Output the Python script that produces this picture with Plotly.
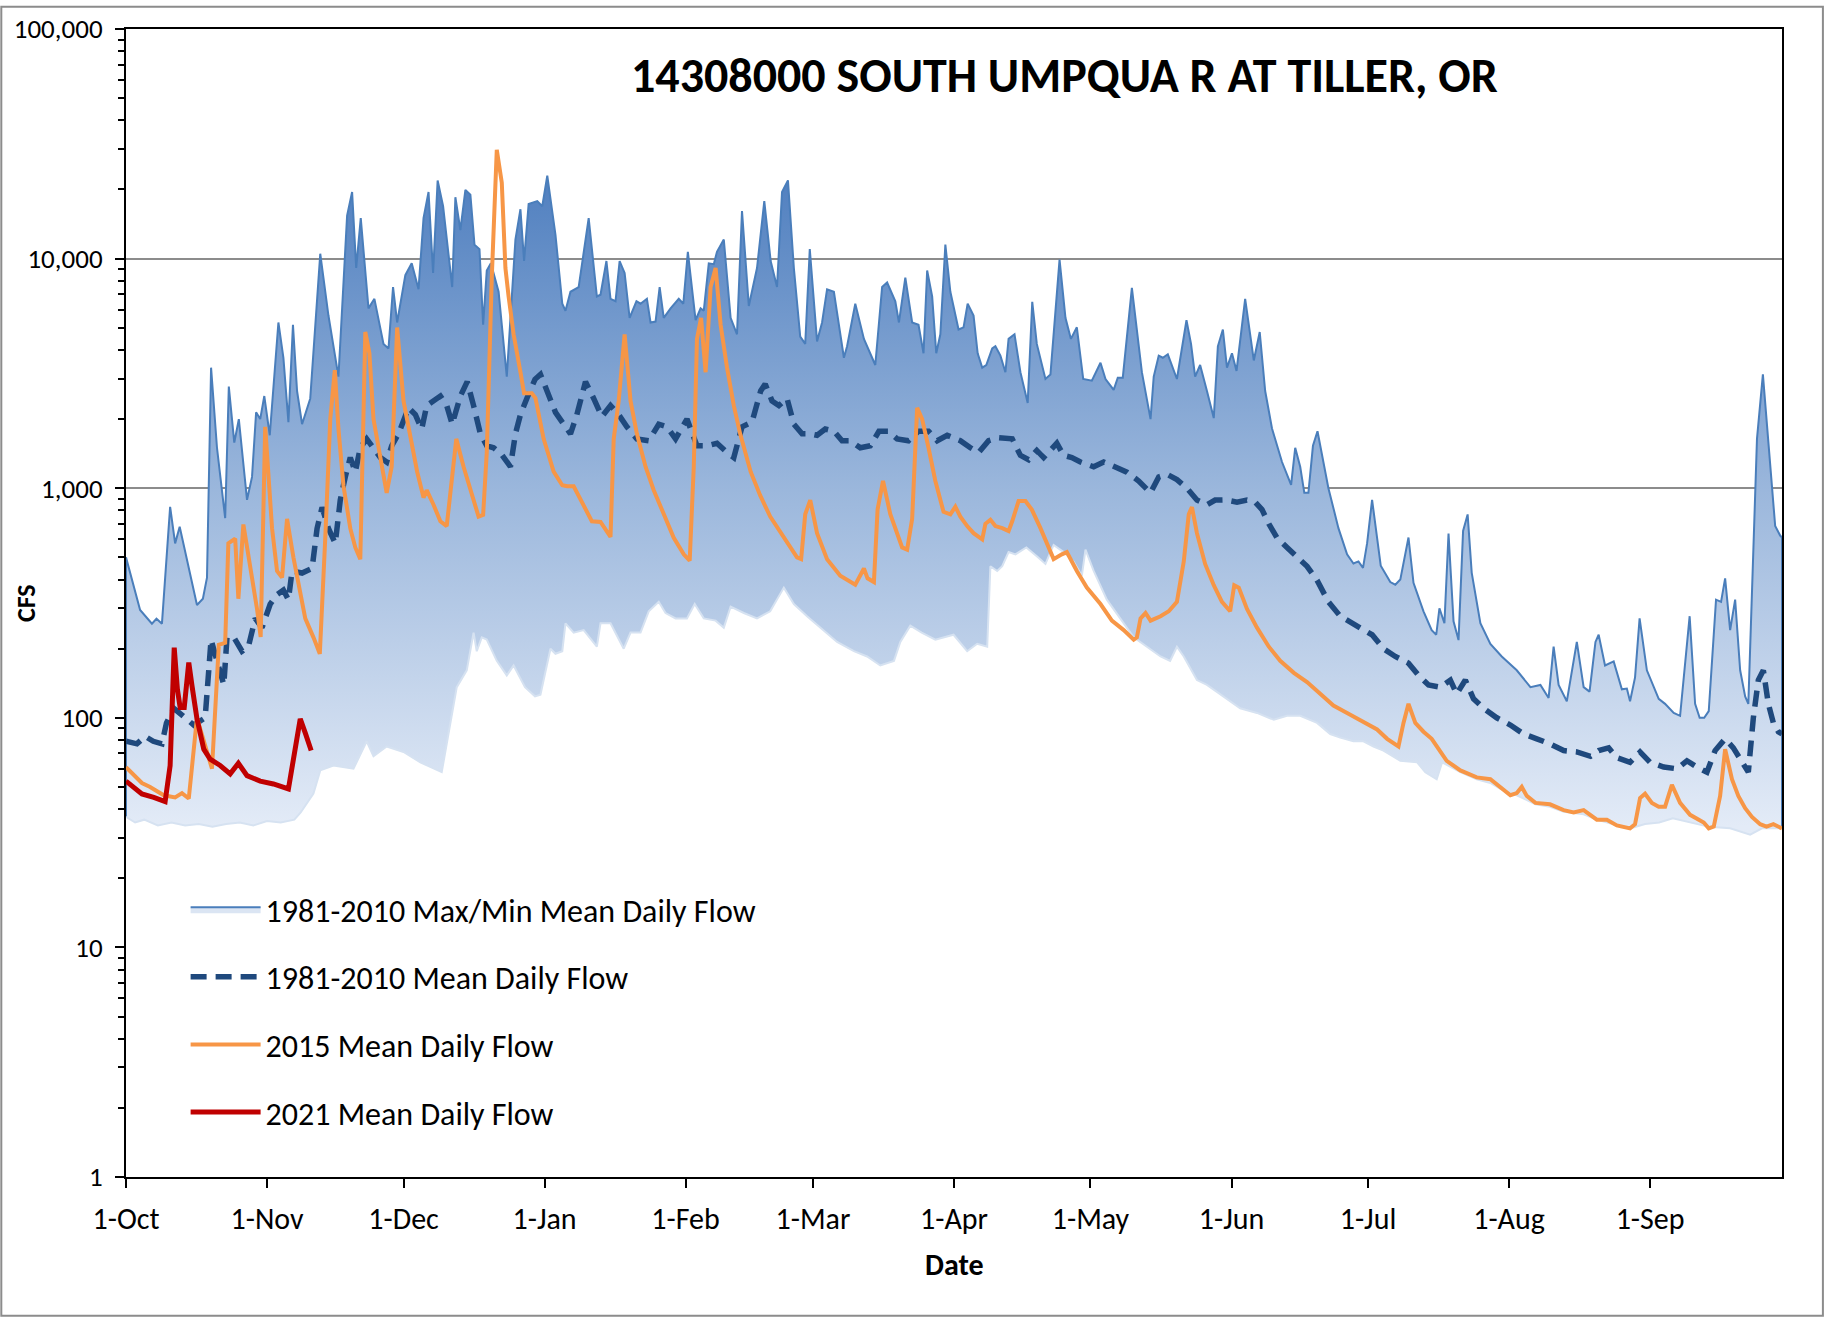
import plotly.graph_objects as go

# ---------------- data (day index: 0 = 1-Oct ... 364 = 30-Sep) ----------------
MONTH_START_DAYS = [0, 31, 61, 92, 123, 151, 182, 212, 243, 273, 304, 335]
MONTH_LABELS = ["1-Oct", "1-Nov", "1-Dec", "1-Jan", "1-Feb", "1-Mar",
                "1-Apr", "1-May", "1-Jun", "1-Jul", "1-Aug", "1-Sep"]
Y_TICKS = [1, 10, 100, 1000, 10000, 100000]
Y_TICK_TEXT = ["1", "10", "100", "1,000", "10,000", "100,000"]

max_day = [0, 3.1, 5.7, 6.7, 7.9, 9.7, 10.8, 11.8, 15.6, 16.9, 17.8, 18.7, 20.0, 21.8, 22.6, 23.8, 24.8,
           26.6, 27.7, 28.6, 29.5, 30.4, 31.6, 33.5, 34.6, 35.7, 36.7, 37.6, 38.7, 40.5, 42.7, 44.5,
           46.7, 48.6, 49.7, 50.6, 51.6, 53.3, 54.6, 56.6, 57.7, 58.7, 59.6, 61.4, 62.8, 64.3, 65.4,
           66.5, 67.5, 68.5, 69.7, 71.7, 72.4, 73.5, 74.6, 75.7, 76.6, 77.7, 78.5, 79.3, 80.2, 81.9,
           83.7, 85.6, 86.7, 87.5, 88.5, 90.4, 91.5, 92.6, 94.4, 95.9, 96.6, 97.7, 99.5, 101.7, 103.5,
           104.3, 105.6, 106.5, 107.6, 108.5, 109.6, 110.7, 112.2, 113.1, 114.5, 115.3, 116.4, 117.3,
           118.2, 119.7, 121.5, 122.5, 123.5, 125.2, 126.3, 127.0, 128.1, 129.2, 129.9, 131.4, 132.9,
           134.3, 135.4, 136.9, 138.7, 140.3, 141.7, 143.1, 144.2, 145.5, 146.8, 148.2, 149.3, 150.3,
           151.9, 153.0, 154.1, 155.6, 157.8, 158.5, 160.3, 162.2, 164.7, 166.2, 167.3, 169.1, 169.9,
           171.3, 172.8, 174.2, 175.3, 176.1, 177.2, 178.1, 179.0, 180.1, 181.2, 183.0, 184.1, 185.0,
           186.3, 187.2, 188.2, 189.1, 190.4, 191.1, 192.2, 193.3, 194.0, 195.3, 196.6, 198.2, 199.2,
           200.2, 202.1, 203.2, 205.2, 206.5, 207.7, 209.0, 210.4, 212.3, 214.2, 215.3, 217.1, 218.0,
           219.1, 221.1, 223.3, 225.2, 225.9, 227.0, 227.9, 229.0, 231.0, 233.1, 234.1, 235.0, 236.1,
           237.6, 239.1, 240.0, 241.1, 242.0, 243.1, 244.1, 246.0, 247.9, 249.2, 250.4, 251.9, 254.1,
           256.1, 257.0, 258.1, 259.0, 259.9, 260.9, 261.9, 264.3, 266.5, 268.4, 269.8, 270.9, 271.9,
           272.8, 273.9, 275.8, 277.9, 279.0, 280.1, 281.9, 283.0, 285.2, 287.0, 288.0, 288.7, 289.8,
           290.7, 291.8, 292.9, 293.9, 294.9, 295.8, 297.7, 299.9, 302.4, 305.7, 308.7, 310.9, 312.7,
           313.8, 314.9, 316.7, 318.9, 320.4, 321.7, 323.0, 323.7, 325.1, 327.0, 328.8, 329.9, 330.6,
           331.7, 332.7, 334.3, 336.9, 338.3, 340.2, 341.6, 343.7, 344.9, 345.9, 346.9, 347.9, 349.5,
           350.6, 351.5, 352.6, 353.7, 354.8, 355.9, 356.6, 358.5, 359.8, 361.0, 362.5, 363.6, 364]
max_cfs = [500, 295, 257, 270, 257, 830, 575, 680, 310, 330, 408, 3350, 1500, 740, 2770, 1580, 2000,
           890, 1120, 2140, 2000, 2520, 1700, 5270, 3700, 1940, 5150, 2650, 1900, 2460, 10500, 5650,
           3060, 15400, 19500, 9100, 15000, 6070, 6680, 4250, 4060, 7520, 5270, 8470, 9540, 7350, 15000,
           19500, 8660, 21900, 16900, 7520, 18500, 13300, 19900, 19000, 11500, 11000, 5150, 8880, 9540, 7170,
           3060, 12100, 16400, 9760, 17300, 17800, 16900, 23000, 12700, 6360, 5930, 7170, 7520, 15000, 6840,
           6960, 9760, 6680, 6520, 9760, 8660, 5520, 6520, 6360, 6680, 5270, 5320, 7520,
           5520, 6070, 6680, 6360, 10700, 5390, 6070, 5930, 9540, 9460, 10700, 12100, 5520,
           4680, 16100, 6220, 9100, 17800, 9760, 7520, 19500, 21900, 9100, 4570, 4250, 11000,
           4360, 5270, 7350, 7170, 3700, 4150, 6360, 4470, 3440, 7520, 7870, 6520, 5270,
           8270, 5270, 5150, 3870, 8880, 6840, 3870, 4680, 11500, 7170, 4910, 5020, 6360,
           5650, 3870, 3350, 3440, 4060, 4150, 3780, 3200, 4470, 4680, 3200, 2350, 6480,
           4250, 2990, 3130, 9900, 5520, 4470, 5020, 2990, 2940, 3520, 2990, 2680, 3030,
           3030, 7450, 3200, 2000, 3060, 3780, 3700, 3830, 2990, 5390, 4250, 3060, 3440,
           2650, 2020, 4150, 4910, 3350, 3870, 3240, 6680, 3600, 4790, 2650, 1820, 1300,
           1035, 1500, 1240, 955, 955, 1530, 1770, 1000, 670, 515, 470, 480, 450,
           575, 890, 460, 390, 380, 400, 610, 387, 291, 241, 230, 300, 258,
           635, 263, 218, 651, 769, 428, 258, 210, 185, 161, 136, 139, 122,
           204, 139, 118, 214, 136, 130, 214, 230, 169, 176, 133, 134, 118,
           150, 271, 161, 121, 115, 105, 102, 277, 115, 100, 100, 107, 327,
           320, 405, 241, 327, 161, 124, 115, 1640, 3130, 1570, 684, 622, 610]

min_day = [0, 2, 4, 7, 10, 13, 16, 19, 22, 25, 28, 31, 34, 37, 38.4, 41.2, 42.7, 45.6, 50.0, 52.9, 54.4,
           57.3, 61.0, 64.7, 69.4, 71.3, 72.7, 74.9, 76.4, 77.1, 78.2, 79.3, 81.5, 83.7, 85.2, 87.7,
           89.9, 91.1, 92.6, 93.3, 94.4, 95.9, 96.6, 98.4, 100.6, 103.5, 104.3, 106.5, 109.4, 110.9,
           113.1, 114.9, 117.1, 118.6, 120.8, 123.3, 125.0, 127.0, 129.6, 131.4, 132.9, 135.8, 138.7,
           141.6, 144.6, 146.8, 149.7, 152.6, 156.3, 160.0, 162.9, 165.8, 168.8, 170.2, 172.4, 174.9,
           177.9, 181.9, 184.9, 187.1, 189.3, 190.0, 191.5, 192.6, 194.0, 195.5, 197.9, 200.2, 202.1,
           203.9, 206.1, 208.3, 210.1, 210.9, 212.7, 215.6, 218.6, 221.5, 224.4, 227.4, 229.5, 231.0,
           232.5, 235.4, 237.6, 241.3, 244.9, 248.6, 252.3, 255.2, 258.1, 261.8, 264.7, 266.9, 269.8,
           272.0, 274.2, 276.4, 280.1, 283.8, 285.6, 288.1, 289.3, 293.3, 296.9, 299.9, 302.1, 305.7,
           309.8, 313.0, 316.0, 320.4, 323.3, 327.7, 330.6, 333.9, 337.0, 340.0, 343.8, 348.0, 352.6,
           357.0, 359.6, 362.1, 364]
min_cfs = [37, 35, 36, 34, 35, 34, 34.5, 33.5, 34.5, 35, 34, 35.5, 35, 36, 38.7, 46.8, 59, 62, 60, 79, 68,
           75, 71, 64, 58, 95, 136, 161, 235, 195, 224, 219, 177, 153, 169, 136,
           124, 126, 169, 200, 190, 195, 258, 235, 241, 204, 258, 258, 200, 235,
           235, 291, 320, 286, 271, 271, 313, 271, 265, 247, 305, 286, 271,
           291, 369, 313, 277, 247, 214, 195, 185, 169, 177, 214, 252, 235,
           219, 230, 195, 210, 204, 457, 436, 457, 527, 515, 552, 505, 468,
           566, 527, 479, 416, 540, 436, 327, 271, 224, 204, 185, 177, 204,
           185, 146, 139, 124, 110, 105, 98, 102, 102, 95, 85, 82, 79,
           79, 75, 72, 65, 64, 58, 54, 64, 58, 54, 52, 49, 46,
           42, 41, 39, 38, 36, 34, 33, 34.5, 35, 36.5, 35, 33.5, 33,
           31, 33, 33, 33]

mean_day = [0, 2.4, 4.2, 6.0, 7.9, 8.9, 10.5, 12.7, 14.9, 17.4, 18.2, 18.7, 20.0, 21.5, 22.2, 23.7, 25.5,
            26.9, 28.4, 29.9, 31.7, 33.2, 34.6, 35.7, 36.5, 38.7, 40.9, 42.0, 43.1, 44.5, 46.0, 47.1,
            48.2, 49.3, 50.4, 51.5, 52.9, 54.4, 55.9, 57.3, 58.4, 59.9, 61.0, 62.1, 63.6, 65.0, 66.1,
            67.6, 69.1, 70.5, 71.7, 73.5, 75.0, 76.4, 77.9, 79.3, 80.8, 82.6, 84.5, 85.6, 86.7, 88.1,
            89.9, 91.1, 92.9, 94.4, 96.2, 97.7, 99.1, 101.0, 102.8, 104.6, 106.5, 108.3, 110.1, 112.3,
            114.9, 117.1, 118.9, 120.8, 123.3, 125.5, 127.7, 129.9, 132.1, 133.6, 135.4, 137.6, 139.5,
            140.5, 142.0, 143.5, 145.3, 146.8, 148.6, 150.4, 151.9, 153.7, 155.6, 157.4, 159.2, 161.4,
            163.6, 165.5, 167.6, 169.5, 172.0, 174.2, 176.4, 178.3, 180.5, 183.4, 185.6, 187.4, 189.6,
            191.8, 194.8, 196.6, 198.4, 200.2, 201.7, 203.2, 204.6, 206.1, 207.9, 209.8, 212.7, 214.9,
            217.1, 220.0, 222.6, 225.2, 227.0, 228.8, 231.0, 233.2, 235.4, 237.6, 239.4, 241.6, 244.2,
            246.4, 248.2, 249.7, 251.2, 253.0, 255.2, 257.4, 259.6, 261.8, 264.3, 266.9, 269.1, 271.3,
            273.9, 276.4, 279.0, 281.9, 284.1, 286.3, 288.9, 291.1, 292.5, 294.4, 296.2, 298.4, 301.3,
            304.3, 307.2, 310.1, 313.0, 316.0, 318.9, 321.9, 323.7, 325.9, 327.7, 330.6, 332.8, 335.0,
            338.0, 340.9, 343.1, 345.3, 347.5, 349.3, 351.5, 353.3, 355.2, 356.6, 357.7, 358.8, 359.9,
            361.0, 362.1, 363.2, 364]
mean_cfs = [79, 77, 83, 79, 77, 95, 110, 102, 93, 100, 161, 219, 177, 139, 224, 224, 195,
            204, 271, 247, 313, 344, 360, 327, 436, 427, 447, 668, 826, 668, 575, 888,
            1120, 1360, 1175, 1500, 1640, 1500, 1360, 1300, 1530, 1725, 2000, 2240, 2090, 1810, 2290,
            2400, 2520, 2290, 1900, 2520, 2910, 2290, 1725, 1530, 1500, 1400, 1240, 1725, 2090, 2460,
            2980, 3130, 2520, 2140, 1900, 1725, 2090, 2910, 2460, 2050, 2290, 2090, 1850, 1640,
            1610, 1900, 1850, 1640, 2000, 1530, 1530, 1570, 1430, 1360, 1850, 1940, 2650,
            2840, 2400, 2290, 2460, 1900, 1725, 1725, 1700, 1810, 1770, 1610, 1610, 1500,
            1530, 1770, 1770, 1640, 1610, 1770, 1770, 1610, 1700, 1610, 1500, 1430, 1610,
            1660, 1640, 1390, 1330, 1460, 1360, 1460, 1570, 1390, 1360, 1300, 1240, 1300,
            1240, 1175, 1075, 955, 1120, 1150, 1090, 1000, 888, 847, 888, 890, 870,
            888, 870, 807, 700, 608, 552, 505, 457, 397, 320, 277, 262, 247,
            230, 200, 185, 173, 153, 139, 136, 146, 127, 146, 121, 110, 100,
            93, 85, 81, 77, 72, 71, 68, 72, 74, 67, 64, 71, 64,
            61, 60, 65, 61, 58, 72, 81, 74, 65, 58, 100, 146, 161,
            115, 95, 87, 85]

y2015_day = [0, 3.5, 5.3, 8.3, 10.8, 12.3, 13.8, 15.6, 18.9, 20.4, 21.8, 22.5, 24.0, 24.7, 25.8, 26.9,
             28.8, 29.6, 30.6, 32.1, 33.2, 34.3, 35.4, 36.8, 39.4, 41.2, 42.6, 43.8, 44.9, 45.9, 46.7,
             47.8, 49.3, 50.4, 51.5, 52.6, 53.5, 54.4, 55.9, 57.3, 58.4, 59.6, 61.0, 62.5, 64.0, 65.4,
             66.1, 67.6, 69.1, 70.5, 72.6, 74.2, 75.7, 77.5, 78.5, 79.3, 80.4, 81.5, 82.6, 83.4, 84.1,
             85.2, 86.7, 87.5, 89.2, 90.0, 91.8, 94.0, 95.9, 97.0, 98.4, 100.6, 102.4, 104.3, 105.7,
             106.5, 107.2, 108.3, 109.6, 110.9, 112.3, 114.2, 116.0, 118.2, 120.4, 122.6, 123.9, 124.8,
             125.5, 126.4, 127.4, 128.5, 129.6, 130.7, 132.1, 133.6, 135.0, 137.3, 139.4, 141.6, 144.6,
             147.5, 148.4, 149.3, 150.4, 151.9, 154.1, 157.0, 160.3, 161.0, 162.2, 163.0, 164.4, 165.2,
             166.4, 168.0, 169.5, 170.6, 171.7, 172.8, 173.9, 175.0, 176.4, 177.9, 179.7, 181.2, 182.3,
             183.4, 184.9, 186.3, 188.2, 188.9, 190.0, 191.1, 192.6, 194.0, 194.8, 196.2, 197.7, 199.1,
             201.0, 202.4, 203.9, 205.7, 206.8, 209.0, 211.2, 214.2, 216.7, 219.3, 221.5, 222.2, 223.0,
             224.1, 225.2, 227.4, 229.2, 231.0, 232.5, 233.6, 234.3, 235.4, 237.2, 239.1, 240.9, 242.7,
             243.6, 244.6, 246.4, 248.6, 251.2, 253.7, 256.7, 259.6, 262.5, 265.4, 268.4, 271.3, 275.0,
             277.2, 279.7, 280.8, 281.9, 283.4, 285.2, 287.0, 288.5, 290.3, 293.3, 296.9, 299.9, 302.1,
             304.3, 305.7, 306.8, 307.9, 309.8, 313.0, 316.0, 318.2, 320.4, 323.3, 325.5, 327.7, 330.6,
             331.7, 332.8, 333.9, 335.4, 336.9, 338.3, 339.8, 341.6, 343.8, 346.8, 347.9, 349.0, 350.4,
             351.5, 353.0, 354.4, 355.9, 357.4, 359.2, 360.6, 362.1, 364]
y2015_cfs = [61, 52, 50, 46, 45, 47, 44.5, 100, 60, 208, 212, 575, 603, 330, 695, 520,
             298, 225, 1850, 670, 436, 408, 735, 500, 271, 224, 190, 608, 2000, 3270, 1810,
             1025, 668, 552, 490, 4790, 3870, 2000, 1360, 955, 1240, 5010, 2400, 1640, 1180, 910,
             980, 847, 718, 684, 1640, 1240, 980, 752, 765, 1430, 8270, 29800, 21400, 9100, 6840,
             4680, 3200, 2590, 2590, 2470, 1640, 1180, 1030, 1020, 1020, 847, 718, 713, 651,
             614, 1640, 2400, 4680, 2400, 1725, 1240, 980, 770, 608, 515, 484, 1240,
             4470, 5520, 3200, 7520, 9100, 5150, 3360, 2290, 1725, 1180, 930, 752, 608,
             500, 491, 770, 888, 637, 491, 416, 380, 405, 447, 405, 390, 807,
             1075, 770, 637, 552, 540, 735, 2240, 2000, 1500, 1075, 789, 770, 830,
             752, 684, 637, 599, 700, 728, 684, 670, 651, 718, 880, 880, 807,
             670, 580, 491, 515, 527, 436, 369, 313, 265, 241, 219, 224, 271,
             286, 265, 277, 291, 320, 479, 770, 828, 637, 468, 378, 320, 291,
             378, 369, 298, 247, 204, 177, 157, 143, 127, 113, 105, 98, 89,
             81, 75, 95, 115, 95, 87, 81, 73, 65, 59, 55, 54, 50,
             46, 47, 50, 45.7, 42.6, 42, 39.6, 38.7, 39.6, 36, 36, 34, 33,
             34.4, 44.7, 46.7, 42.6, 41, 41, 51, 42.6, 37.8, 35, 33, 33.6, 45.7,
             73, 54, 45.7, 40.4, 37, 34.4, 33.6, 34.4, 33]

y2021_day = [0, 3.5, 6.1, 8.6, 9.7, 10.6, 11.3, 11.9, 12.8, 13.8, 14.5, 15.6, 17.1, 18.5, 20.7, 22.9,
             24.7, 26.6, 29.5, 32.4, 35.7, 36.8, 38.3, 39.4, 40.7]
y2021_cfs = [53, 46.6, 45, 43.2, 62, 202, 133, 111, 111, 174, 138, 99, 73, 66, 62, 57,
             63.4, 56, 53, 51.5, 49, 68, 99, 86, 72]

# ---------------- styling ----------------
FONT = "Carlito, Lato, 'Open Sans', sans-serif"
Y_FLOOR = Y_TICKS[0]
X_FIRST, X_LAST = max_day[0], max_day[-1]
BAND_LINE = "#4a7ebb"

fig = go.Figure()

# max envelope: gradient area from axis floor up to the max curve
fig.add_trace(go.Scatter(
    x=[X_FIRST] + max_day + [X_LAST], y=[Y_FLOOR] + max_cfs + [Y_FLOOR],
    mode="lines", fill="toself",
    fillgradient=dict(type="vertical", start=1, stop=30000,
                      colorscale=[[0, "#f4f7fc"], [0.345, "#e3ebf7"], [0.67, "#9bb7dc"], [1, "#4a7bbd"]]),
    line=dict(color=BAND_LINE, width=2),
    showlegend=False, legendgroup="g1", hoverinfo="skip"))

# min envelope: white area from axis floor up to the min curve
fig.add_trace(go.Scatter(
    x=[X_FIRST] + min_day + [X_LAST], y=[Y_FLOOR] + min_cfs + [Y_FLOOR],
    mode="lines", fill="toself", fillcolor="white", line=dict(width=0),
    showlegend=False, hoverinfo="skip"))
fig.add_trace(go.Scatter(
    x=min_day, y=min_cfs, mode="lines", line=dict(color="#d6e2f1", width=2),
    showlegend=False, hoverinfo="skip"))

# legend entry for the max/min band
fig.add_trace(go.Scatter(
    x=[None], y=[None], mode="lines", fill="toself", fillcolor="#dbe5f3",
    line=dict(color=BAND_LINE, width=2),
    name="1981-2010 Max/Min Mean Daily Flow", legendgroup="g1"))

fig.add_trace(go.Scatter(
    x=mean_day, y=mean_cfs, mode="lines", line=dict(color="#1f497d", width=5.5, dash="16px,9px"),
    name="1981-2010 Mean Daily Flow", legendgroup="g2"))
fig.add_trace(go.Scatter(
    x=y2015_day, y=y2015_cfs, mode="lines", line=dict(color="#f79646", width=4),
    name="2015 Mean Daily Flow", legendgroup="g3"))
fig.add_trace(go.Scatter(
    x=y2021_day, y=y2021_cfs, mode="lines", line=dict(color="#c00000", width=5),
    name="2021 Mean Daily Flow", legendgroup="g4"))

minor_vals = [m * 10 ** e for e in range(5) for m in range(2, 10)]

fig.update_xaxes(
    range=[X_FIRST, X_LAST], tickvals=MONTH_START_DAYS, ticktext=MONTH_LABELS,
    ticks="outside", ticklen=9, tickwidth=2, tickcolor="black",
    showline=True, linecolor="black", linewidth=2, mirror=True,
    showgrid=False, zeroline=False, ticklabelstandoff=5,
    tickfont=dict(size=30, color="black", family=FONT))
fig.update_yaxes(
    type="log", range=[0, 5], tickvals=Y_TICKS, ticktext=Y_TICK_TEXT,
    ticks="outside", ticklen=9, tickwidth=2, tickcolor="black",
    minor=dict(tickvals=minor_vals, ticks="outside", ticklen=6, tickwidth=2,
               tickcolor="black", showgrid=False),
    showline=True, linecolor="black", linewidth=2, mirror=True,
    showgrid=True, gridcolor="#8c8c8c", gridwidth=2, zeroline=False,
    ticklabelstandoff=7, tickfont=dict(size=27, color="black", family=FONT))

fig.update_layout(
    width=1825, height=1318,
    margin=dict(l=126, r=43, t=23, b=141),
    plot_bgcolor="white", paper_bgcolor="white",
    font=dict(family=FONT, color="black"),
    showlegend=True,
    legend=dict(x=0.036, y=0.257, xanchor="left", yanchor="top",
                font=dict(size=32, family=FONT, color="black"),
                bgcolor="rgba(0,0,0,0)", itemwidth=70, tracegroupgap=23,
                traceorder="grouped"),
    annotations=[
        dict(text="<b>14308000 SOUTH UMPQUA R AT TILLER, OR</b>", x=0.567, y=0.9595,
             xref="paper", yref="paper", xanchor="center", yanchor="middle",
             showarrow=False, font=dict(size=48, family=FONT, color="black")),
        dict(text="<b>Date</b>", x=0.50, y=-0.0766, xref="paper", yref="paper",
             xanchor="center", yanchor="middle", showarrow=False,
             font=dict(size=30, family=FONT, color="black")),
        dict(text="<b>CFS</b>", x=-0.0604, y=0.5, xref="paper", yref="paper",
             xanchor="center", yanchor="middle", textangle=-90, showarrow=False,
             font=dict(size=26, family=FONT, color="black")),
    ],
    shapes=[dict(type="rect", xref="paper", yref="paper", x0=-0.0753, x1=1.0247,
                 y0=-0.1209, y1=1.0194, line=dict(color="#8c8c8c", width=2),
                 fillcolor="rgba(0,0,0,0)", layer="above")],
)

fig.write_html("out.html", config={"displayModeBar": False},
               post_script="document.body.style.margin='0';")
